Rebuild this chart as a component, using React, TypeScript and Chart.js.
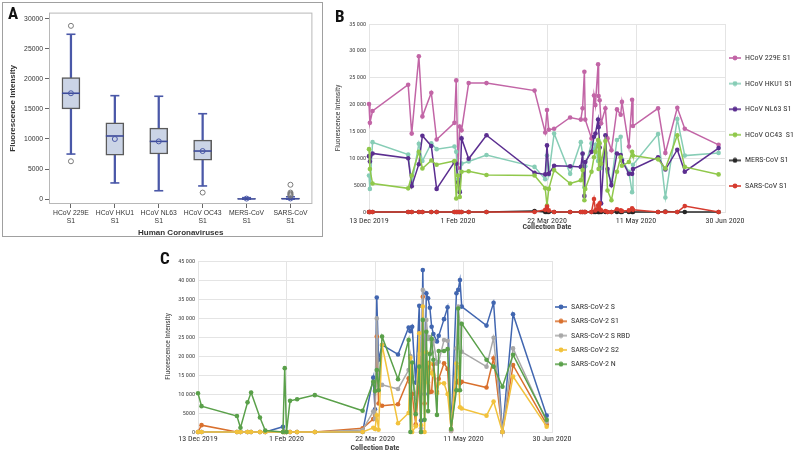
import React, { useEffect, useRef } from 'react';
import { Chart, registerables } from 'chart.js';

Chart.register(...registerables);

const SANS = '"Liberation Sans", Arial, sans-serif';
const NARROW = '"Liberation Sans Narrow", "Arial Narrow", "Roboto Condensed", "DejaVu Sans Condensed", "Liberation Sans", sans-serif';

// ---------- Panel A (box plot) ----------
const aCategories = [
  ['HCoV 229E', 'S1'],
  ['HCoV HKU1', 'S1'],
  ['HCoV NL63', 'S1'],
  ['HCoV OC43', 'S1'],
  ['MERS-CoV', 'S1'],
  ['SARS-CoV', 'S1'],
];
const aMin = [7500, 2700, 1400, 2200, 0, 0];
const aQ1 = [15000, 7300, 7500, 6500, 0, 0];
const aMedian = [17600, 10500, 9600, 8000, 40, 60];
const aMean = [17600, 10000, 9600, 8000, 100, 120];
const aQ3 = [20200, 12700, 11800, 9800, 90, 180];
const aMax = [27400, 17200, 17100, 14200, 250, 400];
const aOutliers1 = [28800, null, null, 1100, null, 2400];
const aOutliers2 = [6300, null, null, null, null, 1100];
const aOutliers3 = [null, null, null, null, null, 900];
const aOutliers4 = [null, null, null, null, null, 750];
const aOutliers5 = [null, null, null, null, null, 600];
const aYTicks = [0, 5000, 10000, 15000, 20000, 25000, 30000];

// ---------- Panel B (HCoV over time) ----------
const dateTickLabels = ['13 Dec 2019', '1 Feb 2020', '22 Mar 2020', '11 May 2020', '30 Jun 2020'];
const bDays = [0, 0.5, 2, 22, 24, 28, 30, 35, 38, 48, 49, 50, 51, 52, 56, 66, 93, 99, 100, 101, 104, 113, 119, 120, 121, 121.5, 125, 126.4, 127.2, 128.7, 129, 129.6, 130.4, 132.8, 134, 136.2, 139.3, 141.4, 142.1, 146, 147.8, 148.3, 162.4, 166.5, 173.2, 177.4, 196.4];
const b229E = [20100, 16600, 18800, 23700, 14600, 29000, 17800, 22200, 13500, 16600, 24500, 8200, 15900, 15200, 24000, 24000, 22600, 14800, 19000, 15300, 15500, 17600, 17200, 19300, 26100, 17200, 13700, 21700, 19900, 27500, 21600, 20800, 16500, 19300, 13700, 11500, 19100, 18100, 20500, 12200, 20900, 16000, 19300, 11000, 19400, 15500, 12500];
const bHKU1 = [6800, 4300, 13000, 10700, 5200, 12700, 9500, 12800, 11700, 12200, 11200, 6000, 3900, 9000, 9400, 10600, 8400, 6100, 10500, 7000, 14600, 7100, 13000, 10800, 4600, 8500, 12800, 11500, 12500, 9500, 13200, 10000, 8200, 11000, 7500, 5600, 13400, 14000, 9800, 7500, 3700, 8800, 14500, 2700, 17300, 10500, 11000];
const bNL63 = [10400, 9400, 10900, 10000, 4800, 8900, 14200, 12300, 4300, 9300, 9000, 5500, 3700, 13700, 9900, 14300, 7300, 7000, 12400, 7100, 8600, 8500, 8400, 10900, 3000, 9300, 11200, 14000, 14600, 17200, 15800, 12000, 1600, 14300, 8000, 5000, 10900, 10600, 9600, 7100, 7100, 8000, 10200, 7900, 11600, 7500, 11900];
const bOC43 = [11700, 8000, 5300, 4400, 6800, 11200, 8100, 9600, 8800, 9500, 2500, 6800, 2800, 7500, 7600, 6900, 6800, 4400, 1200, 4300, 7800, 5300, 5900, 7800, 2200, 4300, 7500, 10200, 11200, 13400, 8000, 12800, 9000, 13200, 4000, 2200, 7500, 10200, 8600, 9300, 11200, 10500, 9800, 8100, 14300, 8400, 7000];
const bMERS = [0, 0, 0, 0, 0, 0, 0, 0, 0, 0, 0, 0, 0, 0, 0, 0, 200, 0, 0, 0, 0, 0, 0, 0, 0, 0, 0, 0, 0, 0, 0, 0, 0, 0, 0, 0, 0, 0, 0, 0, 0, 0, 0, 100, 0, 0, 0];
const bSARS = [0, 0, 0, 0, 0, 0, 0, 0, 0, 0, 0, 0, 0, 0, 0, 0, 0, 400, 1000, 300, 0, 0, 0, 0, 0, 0, 0, 2400, 300, 1200, 500, 1600, 300, 200, 0, 0, 500, 300, 200, 300, 700, 400, 0, 0, 0, 1100, 0];
const bLabels = ['HCoV 229E S1', 'HCoV HKU1 S1', 'HCoV NL63 S1', 'HCoV OC43  S1', 'MERS-CoV S1', 'SARS-CoV S1'];
const bColors = ['#c265a6', '#87cdb6', '#5b2e90', '#90c84b', '#262626', '#d63b2f'];

// ---------- Panel C (SARS-CoV-2 over time) ----------
const cDays = [0, 2, 22, 24, 28, 30, 35, 38, 48, 49, 50, 52, 56, 66, 93, 99, 100, 101, 102, 104, 113, 119, 120, 121, 123, 125, 126, 127, 128, 129, 130, 131, 132, 133, 135, 136, 139, 141, 143, 146, 147, 148, 149, 163, 167, 172, 178, 197];
const cS = [0, 0, 0, 0, 0, 0, 0, 0, 1400, 0, 0, 0, 0, 0, 0, 14300, 6000, 35400, 19000, 22900, 20400, 27500, 26500, 27700, 13000, 33200, 3000, 42600, 10000, 36500, 35200, 32700, 27700, 25800, 23800, 25300, 29700, 32800, 500, 36500, 37400, 40000, 33000, 28000, 34000, 0, 31000, 4300];
const cS1 = [0, 1800, 0, 0, 0, 0, 0, 0, 0, 0, 0, 0, 0, 0, 1000, 3400, 4500, 25100, 7500, 6900, 7300, 14100, 13000, 10000, 2000, 13500, 0, 35600, 7500, 16500, 18000, 10500, 10600, 17800, 10500, 14000, 18100, 16600, 300, 13000, 13500, 12800, 13200, 11700, 19400, 0, 17600, 2000];
const cRBD = [0, 0, 0, 0, 0, 0, 0, 0, 0, 0, 0, 0, 0, 0, 500, 5400, 3500, 29900, 12000, 12400, 11300, 16300, 20000, 14500, 9000, 20500, 1000, 37400, 14000, 29500, 24500, 25000, 21000, 24000, 18000, 18500, 24200, 24000, 300, 22000, 33000, 28500, 21100, 17200, 24800, 0, 22000, 2700];
const cS2 = [0, 0, 0, 0, 0, 0, 0, 0, 0, 0, 0, 0, 0, 0, 0, 1100, 800, 4400, 600, 22900, 2300, 5000, 19500, 0, 1500, 26000, 1800, 33000, 0, 21000, 13000, 18000, 15500, 15000, 10200, 12800, 12800, 10000, 800, 18000, 17000, 6500, 6200, 4300, 8000, 0, 14600, 1400];
const cN = [10200, 6800, 4200, 1100, 7800, 10400, 3800, 400, 0, 16800, 0, 8200, 8600, 9700, 5600, 13200, 10800, 16300, 11000, 25100, 13900, 24200, 0, 18300, 4700, 17200, 0, 29500, 3200, 26400, 5500, 20500, 24500, 19000, 4500, 21300, 21300, 21800, 800, 11000, 32500, 11000, 28500, 19000, 17200, 11900, 20300, 3200];
const cLabels = ['SARS-CoV-2 S', 'SARS-CoV-2 S1', 'SARS-CoV-2 S RBD', 'SARS-CoV-2 S2', 'SARS-CoV-2 N'];
const cColors = ['#4166b0', '#d9702d', '#a8a8a8', '#f2c23c', '#5aa04a'];

// ---------- helpers ----------
function fmtThousands(v: number): string {
  if (Math.abs(v) < 10000) return String(v);
  return String(v).replace(/\B(?=(\d{3})+(?!\d))/g, ' ');
}

function markerImage(color: string): HTMLCanvasElement {
  const c = document.createElement('canvas');
  c.width = 12;
  c.height = 6;
  const g = c.getContext('2d') as CanvasRenderingContext2D;
  g.strokeStyle = color;
  g.lineWidth = 1.6;
  g.beginPath();
  g.moveTo(0, 3);
  g.lineTo(12, 3);
  g.stroke();
  g.fillStyle = color;
  g.beginPath();
  g.arc(6, 3, 2.4, 0, Math.PI * 2);
  g.fill();
  return c;
}

function timeChartConfig(opts: {
  days: number[];
  series: number[][];
  labels: string[];
  colors: string[];
  yMax: number;
  yWidth: number;
  yTitlePad: number;
  xHeight: number;
  xTickPad: number;
  xTitlePadBottom: number;
  padTop: number;
  padRight: number;
  legendMaxWidth: number;
  legendTitlePad: number;
  legendPadding: number;
  legendLineHeight: number;
}): any {
  const markers = opts.colors.map(markerImage);
  const datasets = opts.series.map((vals, i) => ({
    label: opts.labels[i],
    data: opts.days.map((d, j) => ({ x: d, y: vals[j] })),
    borderColor: opts.colors[i],
    backgroundColor: opts.colors[i],
    pointBackgroundColor: opts.colors[i],
    pointBorderColor: opts.colors[i],
    pointBorderWidth: 0,
    pointRadius: 2.3,
    borderWidth: 1.5,
    tension: 0,
    clip: false,
    order: -i,
  }));
  return {
    type: 'line',
    data: { datasets },
    options: {
      responsive: false,
      maintainAspectRatio: false,
      animation: false,
      events: [],
      layout: { padding: { top: opts.padTop, right: opts.padRight, left: 0, bottom: 0 } },
      scales: {
        x: {
          type: 'linear',
          min: 0,
          max: 200,
          afterFit: (s: any) => { s.height = opts.xHeight; },
          grid: { color: '#e4e4e4', drawTicks: false, lineWidth: 1 },
          border: { color: '#e4e4e4' },
          ticks: {
            stepSize: 50,
            autoSkip: false,
            maxRotation: 0,
            padding: opts.xTickPad,
            color: '#333',
            font: { family: NARROW, size: 8 },
            callback: (v: number) => dateTickLabels[Math.round(v / 50)] ?? '',
          },
          title: {
            display: true,
            text: 'Collection Date',
            color: '#444',
            font: { family: NARROW, size: 8, weight: 'bold' },
            padding: { top: 0, bottom: opts.xTitlePadBottom },
          },
        },
        y: {
          type: 'linear',
          min: 0,
          max: opts.yMax,
          afterFit: (s: any) => { s.width = opts.yWidth; },
          grid: { color: '#e4e4e4', drawTicks: false, lineWidth: 1 },
          border: { color: '#e4e4e4' },
          ticks: {
            stepSize: 5000,
            padding: 3,
            color: '#444',
            font: { family: NARROW, size: 6.2 },
            callback: (v: number) => fmtThousands(v),
          },
          title: {
            display: true,
            text: 'Fluorescence Intensity',
            color: '#444',
            font: { family: NARROW, size: 7.5 },
            padding: { top: opts.yTitlePad, bottom: 0 },
          },
        },
      },
      plugins: {
        tooltip: { enabled: false },
        legend: {
          display: true,
          position: 'right',
          align: 'start',
          maxWidth: opts.legendMaxWidth,
          title: { display: true, text: '', font: { size: 8 }, padding: { top: opts.legendTitlePad, bottom: 0 } },
          labels: {
            usePointStyle: true,
            pointStyleWidth: 12,
            padding: opts.legendPadding,
            color: '#333',
            font: { family: NARROW, size: 8, lineHeight: opts.legendLineHeight },
            generateLabels: (chart: any) =>
              chart.data.datasets.map((ds: any, i: number) => ({
                text: [ds.label],
                fillStyle: ds.borderColor,
                strokeStyle: ds.borderColor,
                lineWidth: 0,
                pointStyle: markers[i],
                hidden: false,
                datasetIndex: i,
                fontColor: '#333',
              })),
          },
        },
      },
    },
  };
}

function boxChartConfig(): any {
  const blue = '#4a58a8';
  const frame = {
    id: 'plotFrame',
    beforeDatasetsDraw(chart: any) {
      const { ctx, chartArea: a } = chart;
      ctx.save();
      ctx.strokeStyle = '#b8b8b8';
      ctx.lineWidth = 1;
      ctx.strokeRect(a.left + 0.5, a.top + 0.5, a.right - a.left - 1, a.bottom - a.top - 1);
      ctx.restore();
    },
  };
  const pts = (data: (number | null)[], extra: any) => ({
    type: 'line',
    data,
    showLine: false,
    clip: false,
    ...extra,
  });
  const outlier = (data: (number | null)[]) =>
    pts(data, {
      label: 'Outliers',
      pointStyle: 'circle',
      pointRadius: 2.5,
      borderColor: '#7a7a7a',
      pointBorderColor: '#7a7a7a',
      pointBackgroundColor: 'rgba(0,0,0,0)',
      pointBorderWidth: 1,
      order: 0,
    });
  return {
    type: 'bar',
    plugins: [frame],
    data: {
      labels: aCategories,
      datasets: [
        outlier(aOutliers1),
        outlier(aOutliers2),
        outlier(aOutliers3),
        outlier(aOutliers4),
        outlier(aOutliers5),
        pts(aMean, {
          label: 'Mean',
          pointStyle: 'circle',
          pointRadius: 2.5,
          borderColor: blue,
          pointBorderColor: blue,
          pointBackgroundColor: 'rgba(0,0,0,0)',
          pointBorderWidth: 1,
          order: 1,
        }),
        pts(aMedian, {
          label: 'Median',
          pointStyle: 'line',
          pointRadius: 9,
          borderColor: '#3e4b9a',
          pointBorderColor: '#3e4b9a',
          pointBorderWidth: 1.6,
          order: 2,
        }),
        pts(aMax, {
          label: 'Max',
          pointStyle: 'line',
          pointRadius: 4.5,
          borderColor: blue,
          pointBorderColor: blue,
          pointBorderWidth: 1.6,
          order: 2,
        }),
        pts(aMin, {
          label: 'Min',
          pointStyle: 'line',
          pointRadius: 4.5,
          borderColor: blue,
          pointBorderColor: blue,
          pointBorderWidth: 1.6,
          order: 2,
        }),
        {
          type: 'bar',
          label: 'IQR',
          data: aQ1.map((q, i) => [q, aQ3[i]]),
          barThickness: 18,
          backgroundColor: '#cbd4e6',
          borderColor: '#5b5b5b',
          borderWidth: 1.5,
          borderSkipped: false,
          grouped: false,
          order: 3,
        },
        {
          type: 'bar',
          label: 'Lower whisker',
          data: aMin.map((m, i) => [m, aQ1[i]]),
          barThickness: 1.6,
          backgroundColor: blue,
          grouped: false,
          order: 4,
        },
        {
          type: 'bar',
          label: 'Upper whisker',
          data: aQ3.map((q, i) => [q, aMax[i]]),
          barThickness: 1.6,
          backgroundColor: blue,
          grouped: false,
          order: 4,
        },
      ],
    },
    options: {
      responsive: false,
      maintainAspectRatio: false,
      animation: false,
      events: [],
      layout: { padding: { top: 4, right: 4, left: 0, bottom: 0 } },
      scales: {
        x: {
          type: 'category',
          offset: true,
          afterFit: (s: any) => { s.height = 33; },
          grid: { display: true, drawOnChartArea: false, offset: false, tickLength: 4, color: '#666' },
          border: { display: false },
          ticks: {
            padding: 1,
            autoSkip: false,
            maxRotation: 0,
            minRotation: 0,
            color: '#333',
            font: { family: SANS, size: 6.8, lineHeight: 1.18 },
          },
          title: {
            display: true,
            text: 'Human Coronaviruses',
            color: '#333',
            font: { family: SANS, size: 8, weight: 'bold', lineHeight: 1.1 },
            padding: { top: 0, bottom: 0 },
          },
        },
        y: {
          type: 'linear',
          min: -800,
          max: 31000,
          afterFit: (s: any) => { s.width = 47; },
          afterBuildTicks: (s: any) => { s.ticks = aYTicks.map((v) => ({ value: v })); },
          grid: { display: true, drawOnChartArea: false, tickLength: 4, color: '#666' },
          border: { display: false },
          ticks: {
            padding: 2,
            color: '#333',
            font: { family: SANS, size: 6.8 },
            callback: (v: number) => String(v),
          },
          title: {
            display: true,
            text: 'Fluorescence Intensity',
            color: '#333',
            font: { family: SANS, size: 8, weight: 'bold' },
            padding: { top: 6, bottom: 0 },
          },
        },
      },
      plugins: {
        legend: { display: false },
        tooltip: { enabled: false },
      },
    },
  };
}

function ChartCanvas(props: { config: () => any; left: number; top: number; width: number; height: number }) {
  const ref = useRef<HTMLCanvasElement | null>(null);
  useEffect(() => {
    if (!ref.current) return;
    const chart = new Chart(ref.current, props.config());
    return () => chart.destroy();
  }, []);
  return (
    <canvas
      ref={ref}
      width={props.width}
      height={props.height}
      style={{ position: 'absolute', left: props.left, top: props.top, width: props.width, height: props.height }}
    />
  );
}

const letterStyle = (left: number, top: number): React.CSSProperties => ({
  position: 'absolute',
  left,
  top,
  fontFamily: NARROW,
  fontWeight: 'bold',
  fontSize: 17,
  lineHeight: '17px',
  color: '#111',
});

export default function App() {
  return (
    <div style={{ position: 'absolute', left: 0, top: 0, width: 794, height: 454, background: '#fff', overflow: 'hidden' }}>
      <div
        style={{
          position: 'absolute',
          left: 2,
          top: 2,
          width: 321,
          height: 235,
          boxSizing: 'border-box',
          border: '1px solid #a0a0a0',
        }}
      />
      <ChartCanvas config={boxChartConfig} left={2} top={2} width={321} height={235} />
      <ChartCanvas
        config={() =>
          timeChartConfig({
            days: bDays,
            series: [b229E, bHKU1, bNL63, bOC43, bMERS, bSARS],
            labels: bLabels,
            colors: bColors,
            yMax: 35000,
            yWidth: 39,
            yTitlePad: 3.5,
            xHeight: 28,
            xTickPad: 4,
            xTitlePadBottom: 8,
            padTop: 24,
            padRight: 0,
            legendMaxWidth: 69,
            legendTitlePad: 16.4,
            legendPadding: 4,
            legendLineHeight: 2.7,
          })
        }
        left={330}
        top={0}
        width={464}
        height={240}
      />
      <ChartCanvas
        config={() =>
          timeChartConfig({
            days: cDays,
            series: [cS, cS1, cRBD, cS2, cN],
            labels: cLabels,
            colors: cColors,
            yMax: 45000,
            yWidth: 48,
            yTitlePad: 13.5,
            xHeight: 22,
            xTickPad: 2.2,
            xTitlePadBottom: 1.2,
            padTop: 15,
            padRight: 18,
            legendMaxWidth: 80,
            legendTitlePad: 29.4,
            legendPadding: 3,
            legendLineHeight: 1.4125,
          })
        }
        left={150}
        top={246}
        width={500}
        height={208}
      />
      <div style={letterStyle(8, 5)}>A</div>
      <div style={letterStyle(335, 8)}>B</div>
      <div style={letterStyle(160, 250)}>C</div>
    </div>
  );
}
